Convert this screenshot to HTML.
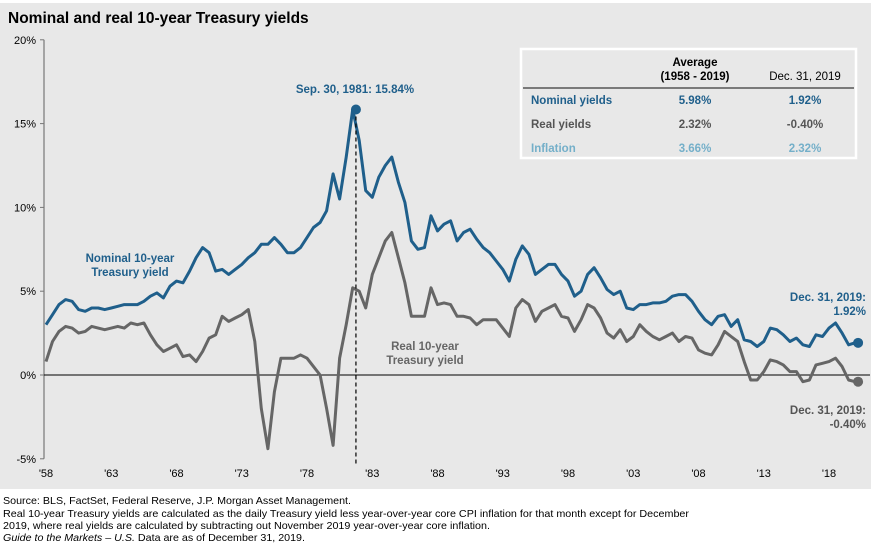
<!DOCTYPE html>
<html><head><meta charset="utf-8"><style>
html,body{margin:0;padding:0;background:#fff;}
svg{display:block;font-family:"Liberation Sans",sans-serif;}
</style></head><body>
<svg width="874" height="545" viewBox="0 0 874 545">
<rect x="0" y="3" width="871" height="486" fill="#e8e8e8"/>
<text x="8" y="23" font-size="15.5" font-weight="bold" fill="#000">Nominal and real 10-year Treasury yields</text>
<g id="axes"></g>
<g id="series"></g>
<g id="annot"></g>
<g>
<rect x="521" y="49" width="335" height="109" fill="#e8e8e8" stroke="#fff" stroke-width="2.5"/>
<line x1="523" y1="88" x2="854" y2="88" stroke="#555" stroke-width="1.5"/>
<g font-size="11.5" font-weight="bold" text-anchor="middle">
<text x="695" y="66" fill="#000">Average</text>
<text x="695" y="80" fill="#000">(1958 - 2019)</text>
<text x="805" y="80" fill="#000" font-weight="normal">Dec. 31, 2019</text>
<text x="695" y="104" fill="#1f5f8b">5.98%</text>
<text x="805" y="104" fill="#1f5f8b">1.92%</text>
<text x="695" y="128" fill="#555">2.32%</text>
<text x="805" y="128" fill="#555">-0.40%</text>
<text x="695" y="152" fill="#74afc9">3.66%</text>
<text x="805" y="152" fill="#74afc9">2.32%</text>
</g>
<g font-size="11.5" font-weight="bold">
<text x="531" y="104" fill="#1f5f8b">Nominal yields</text>
<text x="531" y="128" fill="#555">Real yields</text>
<text x="531" y="152" fill="#74afc9">Inflation</text>
</g>
</g>
<g font-size="10.5" fill="#000">
<text x="3" y="504" textLength="348" lengthAdjust="spacingAndGlyphs">Source: BLS, FactSet, Federal Reserve, J.P. Morgan Asset Management.</text>
<text x="3" y="517" textLength="686" lengthAdjust="spacingAndGlyphs">Real 10-year Treasury yields are calculated as the daily Treasury yield less year-over-year core CPI inflation for that month except for December</text>
<text x="3" y="529" textLength="487" lengthAdjust="spacingAndGlyphs">2019, where real yields are calculated by subtracting out November 2019 year-over-year core inflation.</text>
<text x="3" y="541" textLength="302" lengthAdjust="spacingAndGlyphs"><tspan font-style="italic">Guide to the Markets – U.S.</tspan> Data are as of December 31, 2019.</text>
</g>
</svg>
<script>
const yTicks=[20,15,10,5,0,-5];
const yTickLabels=["20%","15%","10%","5%","0%","-5%"];
const xTickYears=[1958,1963,1968,1973,1978,1983,1988,1993,1998,2003,2008,2013,2018];
const xTickLabels=["'58","'63","'68","'73","'78","'83","'88","'93","'98","'03","'08","'13","'18"];
const nominal=[3.0,3.6,4.2,4.5,4.4,3.9,3.8,4.0,4.0,3.9,4.0,4.1,4.2,4.2,4.2,4.4,4.7,4.9,4.6,5.3,5.6,5.5,6.2,7.0,7.6,7.3,6.2,6.3,6.0,6.3,6.6,7.0,7.3,7.8,7.8,8.2,7.8,7.3,7.3,7.6,8.2,8.8,9.1,9.8,12.0,10.5,13.0,15.84,14.0,11.0,10.6,11.8,12.5,13.0,11.5,10.3,8.0,7.5,7.6,9.5,8.6,9.0,9.2,8.0,8.5,8.7,8.1,7.6,7.3,6.8,6.3,5.6,6.9,7.7,7.2,6.0,6.3,6.6,6.6,6.0,5.6,4.7,5.0,6.0,6.4,5.8,5.1,4.8,5.0,4.0,3.9,4.2,4.2,4.3,4.3,4.4,4.7,4.8,4.8,4.4,3.8,3.3,3.0,3.5,3.6,2.9,3.3,2.1,2.0,1.7,2.0,2.8,2.7,2.4,2.0,2.2,1.8,1.7,2.4,2.3,2.8,3.1,2.5,1.8,1.92];
const real=[0.8,2.0,2.6,2.9,2.8,2.5,2.6,2.9,2.8,2.7,2.8,2.9,2.8,3.1,3.0,3.1,2.4,1.8,1.4,1.6,1.8,1.1,1.2,0.8,1.4,2.2,2.4,3.5,3.2,3.4,3.6,3.9,2.0,-2.0,-4.4,-1.0,1.0,1.0,1.0,1.2,1.0,0.5,0.0,-2.0,-4.2,1.0,3.0,5.2,5.0,4.0,6.0,7.0,8.0,8.5,7.0,5.5,3.5,3.5,3.5,5.2,4.2,4.3,4.2,3.5,3.5,3.4,3.0,3.3,3.3,3.3,2.8,2.3,4.0,4.5,4.2,3.2,3.8,4.0,4.2,3.5,3.4,2.6,3.3,4.2,4.0,3.4,2.5,2.2,2.7,2.0,2.3,3.0,2.6,2.3,2.1,2.3,2.5,2.0,2.3,2.2,1.5,1.3,1.2,1.8,2.6,2.3,2.0,0.8,-0.3,-0.3,0.2,0.9,0.8,0.6,0.2,0.2,-0.4,-0.3,0.6,0.7,0.8,1.0,0.5,-0.3,-0.4];
const peakYear=1981.75, peakValue=15.84;
const NS="http://www.w3.org/2000/svg";
const x=yr=>46+(yr-1958)*13.05;
const y=v=>375-v*16.76;
const t=i=>1958+i*62/(nominal.length-1);
function mk(tag,attrs,parent,text){const e=document.createElementNS(NS,tag);for(const k in attrs)e.setAttribute(k,attrs[k]);if(text!==undefined)e.textContent=text;parent.appendChild(e);return e;}
const axes=document.getElementById('axes'),series=document.getElementById('series'),annot=document.getElementById('annot');
let e=mk('line',{x1:44,y1:y(20),x2:44,y2:y(-5),stroke:'#777','stroke-width':1.2},axes);


yTicks.forEach((v,i)=>{
 mk('line',{x1:40,y1:y(v),x2:44,y2:y(v),stroke:'#777'},axes);
 e=mk('text',{x:36,y:y(v)+4,'font-size':11,'text-anchor':'end',fill:'#000'},axes,yTickLabels[i]);
 
 
});
xTickYears.forEach((yr,i)=>{
 e=mk('text',{x:x(yr),y:477,'font-size':11,'text-anchor':'middle',fill:'#000'},axes,xTickLabels[i]);
 
 
});
e=mk('line',{x1:44,y1:y(0),x2:870,y2:y(0),stroke:'#000','stroke-width':1},axes);


function path(arr){return arr.map((v,i)=>(i?'L':'M')+x(t(i)).toFixed(1)+','+y(v).toFixed(1)).join(' ');}
e=mk('path',{d:path(real),fill:'none',stroke:'#666','stroke-width':3,'stroke-linejoin':'round'},series);


e=mk('path',{d:path(nominal),fill:'none',stroke:'#1f5f8b','stroke-width':3,'stroke-linejoin':'round'},series);


e=mk('line',{x1:x(peakYear),y1:y(peakValue),x2:x(peakYear),y2:466,stroke:'#000','stroke-dasharray':'4,3','stroke-width':1.2},annot);


e=mk('circle',{cx:x(peakYear),cy:y(peakValue),r:5,fill:'#1f5f8b'},annot);


const ln=nominal.length-1;
e=mk('circle',{cx:x(t(ln))+3,cy:y(nominal[ln]),r:5,fill:'#1f5f8b'},annot);


e=mk('circle',{cx:x(t(ln))+3,cy:y(real[ln]),r:5,fill:'#666'},annot);


const labels=[
 ['Sep. 30, 1981: 15.84%',355,93,'middle','#1f5f8b','peak-label'],
 ['Nominal 10-year',130,262,'middle','#1f5f8b','nominal-series-label'],
 ['Treasury yield',130,276,'middle','#1f5f8b','nominal-series-label-2'],
 ['Real 10-year',425,350,'middle','#666','real-series-label'],
 ['Treasury yield',425,364,'middle','#666','real-series-label-2'],
 ['Dec. 31, 2019:',866,301,'end','#1f5f8b','nominal-end-label'],
 ['1.92%',866,315,'end','#1f5f8b','nominal-end-value'],
 ['Dec. 31, 2019:',866,414,'end','#555','real-end-label'],
 ['-0.40%',866,428,'end','#555','real-end-value']];
labels.forEach(l=>{
 e=mk('text',{x:l[1],y:l[2],'text-anchor':l[3],fill:l[4],'font-size':11.5,'font-weight':'bold'},annot,l[0]);
 
 
});
</script>
</body></html>
